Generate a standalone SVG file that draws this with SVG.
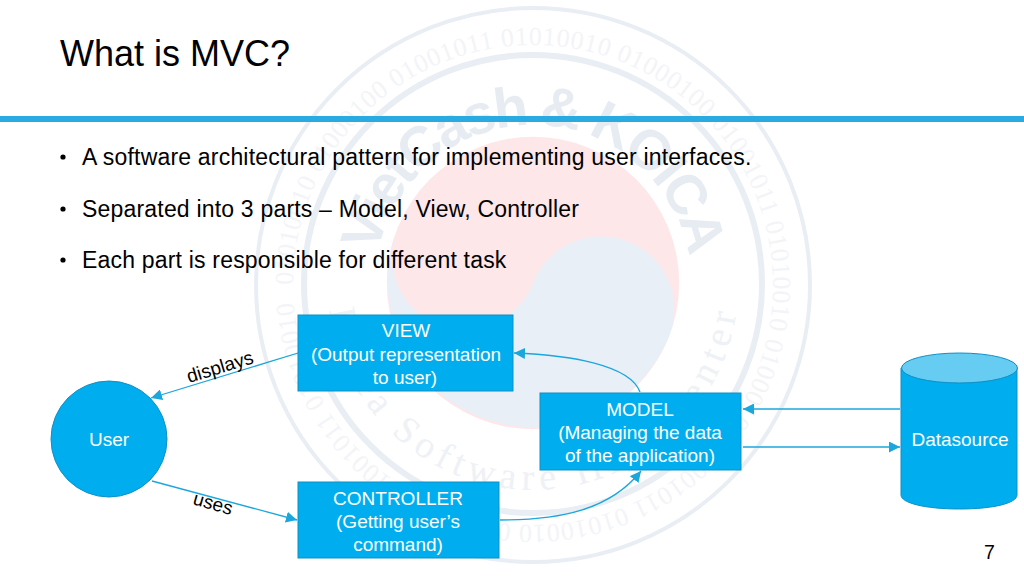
<svg xmlns="http://www.w3.org/2000/svg" width="1024" height="576" viewBox="0 0 1024 576">
<style>
text{font-family:"Liberation Sans",Arial,sans-serif}
.n{fill:#00aeef;stroke:#0f8fc4;stroke-width:1}
.t{fill:#fff;font-size:19px;text-anchor:middle}
.b{fill:#000;font-size:23px;letter-spacing:.19px}
.l{fill:#000;font-size:19px}
.c{fill:none;stroke:#1aa7dc;stroke-width:1.3}
.ring{fill:none;stroke:#e9eef4}
</style>
<defs>
<marker id="a" markerUnits="userSpaceOnUse" markerWidth="12" markerHeight="11" refX="11" refY="5.500" orient="auto"><path d="M0 0L11 5.500L0 11Z" fill="#1aa7dc"/></marker>
<path id="arcTop" d="M375 283A158 158 0 0 1 691 283"/>
<path id="arcBot" d="M328 285A205 205 0 0 0 738 285"/>
<path id="ringPath" d="M293 285A240 240 0 1 1 773 285A240 240 0 1 1 293 285"/>
</defs>
<rect width="1024" height="576" fill="#fff"/>
<g id="watermark">
<circle class="ring" cx="533" cy="285" r="277" stroke-width="4"/>
<circle class="ring" cx="533" cy="284" r="229" stroke-width="6"/>
<circle cx="533" cy="283" r="146.200" fill="#fde7e9"/>
<path d="M396 232A73.100 73.100 0 0 0 533 283A73.100 73.100 0 0 1 670 334A146.200 146.200 0 0 1 396 232Z" fill="#e8eff6"/>
<text style="font-family:'Liberation Serif',serif;font-size:26px;fill:#f2f4f8"><textPath href="#ringPath" textLength="1490">01010010 01000100 01001011 01010010 01000100 01001011 01010010 01000100 01001011 01010010 01000100 01001011 01010010</textPath></text>
<text style="font-size:56px;font-weight:bold;fill:#e7ecf2"><textPath href="#arcTop" startOffset="30" textLength="440">VietCash &amp; KOICA</textPath></text>
<text style="font-family:'Liberation Serif',serif;font-size:38px;fill:#eef1f5"><textPath href="#arcBot" startOffset="25" textLength="590">Korea Software HRD Center</textPath></text>
</g>
<rect y="116" width="1024" height="6" fill="#29abe2"/>
<g id="slide-text">
<text x="60" y="66" style="font-size:36px">What is MVC?</text>
<circle cx="63" cy="157" r="2.600"/><circle cx="63" cy="209" r="2.600"/><circle cx="63" cy="260" r="2.600"/>
<text class="b" x="82" y="164.500">A software architectural pattern for implementing user interfaces.</text>
<text class="b" x="82" y="216.500">Separated into 3 parts – Model, View, Controller</text>
<text class="b" x="82" y="267.500">Each part is responsible for different task</text>
<text x="984" y="559" style="font-size:19.5px">7</text>
</g>
<g id="connectors">
<path class="c" marker-end="url(#a)" d="M298 353L151 398"/>
<path class="c" marker-end="url(#a)" d="M152 481L297 520"/>
<path class="c" marker-end="url(#a)" d="M640 392C630 365 570 355 514 353"/>
<path class="c" marker-end="url(#a)" d="M500 520C560 520 610 510 641 471"/>
<path class="c" marker-end="url(#a)" d="M900 409L743 409"/>
<path class="c" marker-end="url(#a)" d="M743 447L900 447"/>
</g>
<g id="edge-labels">
<text class="l" transform="translate(189 383) rotate(-17)">displays</text>
<text class="l" transform="translate(192 504) rotate(16)">uses</text>
</g>
<g id="user"><circle class="n" cx="109" cy="439" r="58"/><text class="t" x="109" y="446">User</text></g>
<g id="view"><rect class="n" x="298" y="315" width="215" height="76"/><text class="t" x="406" y="337">VIEW</text><text class="t" x="406" y="361">(Output representation</text><text class="t" x="405" y="384">to user)</text></g>
<g id="controller"><rect class="n" x="298" y="482" width="201" height="76"/><text class="t" x="398" y="505">CONTROLLER</text><text class="t" x="398" y="528">(Getting user’s</text><text class="t" x="398" y="551">command)</text></g>
<g id="model"><rect class="n" x="540" y="393" width="201" height="77"/><text class="t" x="640" y="416">MODEL</text><text class="t" x="640" y="439">(Managing the data</text><text class="t" x="640" y="462">of the application)</text></g>
<g id="datasource">
<path class="n" d="M901 368V495C901 503 925 509 959.500 509C994 509 1017 503 1017 495V368Z"/>
<ellipse cx="959.500" cy="368" rx="58" ry="15" fill="#66ccf2" stroke="#0f8fc4"/>
<text class="t" x="960" y="446">Datasource</text>
</g>
</svg>
